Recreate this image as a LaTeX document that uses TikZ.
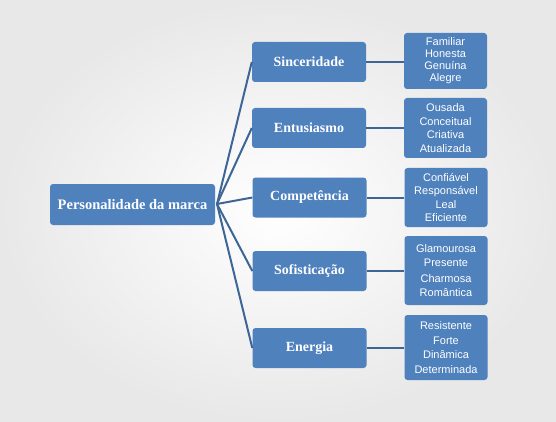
\documentclass[tikz,border=0pt]{standalone}
\usepackage{fontspec}
\setmainfont{Liberation Serif}
\setsansfont{Liberation Sans}
\begin{document}
\begin{tikzpicture}[x=1pt,y=-1pt,
  box/.style={draw=none, fill=boxblue, rounded corners=3pt, inner sep=0pt, text=white},
  midbox/.style={box, minimum width=114pt, minimum height=40pt, font=\bfseries\fontsize{14}{16}\selectfont},
  leafbox/.style={box, minimum width=83pt, align=center, font=\sffamily\fontsize{11}{13.5}\selectfont},
  link/.style={draw=lineblue, line width=2pt}]
\definecolor{boxblue}{HTML}{4F81BD}
\definecolor{lineblue}{HTML}{3D6696}
\shade[inner color=white, outer color=black!9] (0,0) rectangle (556,422);
\useasboundingbox (0,0) rectangle (556,422);
\node[box, minimum width=165pt, minimum height=41pt, font=\bfseries\fontsize{14.5}{16}\selectfont] (root) at (132.5,204.5) {Personalidade da marca};
\node[midbox] (m1) at (309,62) {Sinceridade};
\node[midbox] (m2) at (309,128) {Entusiasmo};
\node[midbox] (m3) at (309.5,197.5) {Competência};
\node[midbox] (m4) at (309.5,271) {Sofisticação};
\node[midbox] (m5) at (309.5,348) {Energia};
\node[leafbox, minimum height=56pt] (l1) at (445.5,61) {Familiar\\[-1.5pt]Honesta\\[-1.5pt]Genuína\\[-1.5pt]Alegre};
\node[leafbox, minimum height=60pt] (l2) at (445.5,128) {Ousada\\Conceitual\\Criativa\\Atualizada};
\node[leafbox, minimum height=59pt] (l3) at (446,197.5) {Confiável\\Responsável\\Leal\\Eficiente};
\node[leafbox, minimum height=69pt] (l4) at (446,270.5) {Glamourosa\\Presente\\[3pt]Charmosa\\Romântica};
\node[leafbox, minimum height=65pt] (l5) at (446,347.5) {Resistente\\[1pt]Forte\\[1pt]Dinâmica\\[1pt]Determinada};
\coordinate (hub) at (217,204);
\foreach \m in {m1,m2,m3,m4,m5} {\draw[link] (hub) -- (\m.west);}
\foreach \i in {1,...,5} {\draw[link] (m\i.east) -- (l\i.west |- m\i.east);}
\end{tikzpicture}
\end{document}
